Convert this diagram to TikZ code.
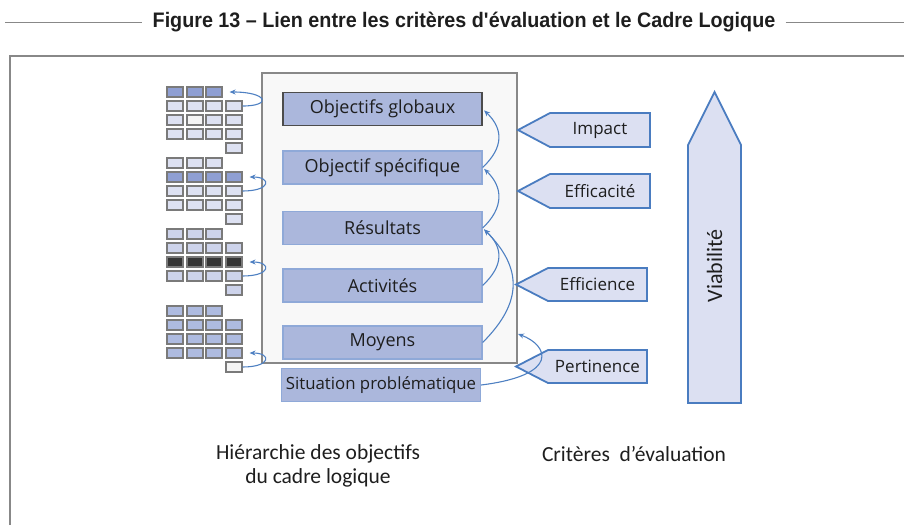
\documentclass[tikz,border=0pt]{standalone}
\usepackage{fontspec}
\setmainfont{Open Sans}
\newfontfamily\carlito{Carlito}
\newfontfamily\titlefont[FakeStretch=0.94]{Liberation Sans}
\usetikzlibrary{arrows.meta}
\definecolor{cellA}{HTML}{8F9FD3}
\definecolor{cellB}{HTML}{DDE1F2}
\definecolor{cellC}{HTML}{CDD3EB}
\definecolor{cellD}{HTML}{363636}
\definecolor{cellE}{HTML}{AEBBE0}
\definecolor{cellW}{HTML}{F4F4F4}
\definecolor{cellline}{HTML}{7A7A7A}
\definecolor{boxfill}{HTML}{ABB7DC}
\definecolor{boxline}{HTML}{8FA9D8}
\definecolor{critfond}{HTML}{DCE0F2}
\definecolor{critbord}{HTML}{4A7CC0}
\definecolor{flechebleu}{HTML}{4E80C2}
\definecolor{gris}{HTML}{888888}
\definecolor{texte}{HTML}{1E1E1E}
\begin{document}
\begin{tikzpicture}[x=1pt, y=-1pt, >={Stealth[length=6pt,width=5pt]},
  cell/.style={draw=cellline, line width=1.1pt, minimum width=16pt, minimum height=10pt, inner sep=0pt},
  boite/.style={draw=boxline, fill=boxfill, line width=1.3pt, minimum width=199pt, minimum height=33pt, inner sep=0pt, text=texte, font=\fontsize{18}{21}\selectfont},
  fleche/.style={->, draw=flechebleu, line width=1.1pt},
  crit/.style={inner sep=0pt, text=texte, font=\fontsize{17}{20}\selectfont},
  critline/.style={draw=critbord, fill=critfond, line width=1.8pt},
  legende/.style={align=center, text=texte, font=\carlito\fontsize{21.5}{24}\selectfont}]
\useasboundingbox (0,0) rectangle (904,525);

% title and page frame
\node[inner xsep=10pt, text=texte, font=\titlefont\bfseries\fontsize{21}{24}\selectfont] (titre) at (464,22) {Figure 13 – Lien entre les critères d\textquotesingle évaluation et le Cadre Logique};
\coordinate (gauche) at (5,22);
\coordinate (droite) at (904,22);
\draw[gris, line width=1pt] (gauche) -- (titre.west);
\draw[gris, line width=1pt] (titre.east) -- (droite);
\draw[gris, line width=2pt] (10,525) |- (904,56);

% logical framework
\node[draw=gris, fill=cellW!60!white, line width=1.2pt, minimum width=255pt, minimum height=290pt] (cadre) at (389.5,218) {};
\node[boite, draw=black!70] (og) at (382.5,109) {Objectifs globaux};
\node[boite] (os) at (382.5,167.5) {Objectif spécifique};
\node[boite] (res) at (382.5,228) {Résultats};
\node[boite] (act) at (382.5,285.5) {Activités};
\node[boite] (moy) at (382.5,342.5) {Moyens};
\node[boite, font=\fontsize{16.8}{20}\selectfont] (sit) at (381,385) {Situation problématique};

\draw[fleche, shorten >=2pt] (os.east) .. controls +(21,-20) and +(21,20) .. (og.east);
\draw[fleche, shorten >=2pt] (res.east) .. controls +(21,-20) and +(21,20) .. (os.east);
\draw[fleche, shorten >=2pt] (act.east) .. controls +(21,-20) and +(21,20) .. (res.east);
\draw[fleche, shorten >=2pt] (moy.east) .. controls +(40,-40) and +(40,40) .. (res.east);

% evaluation criteria
\filldraw[critline] (550,113) -- (650,113) -- (650,147) -- (550,147) -- (518,130) -- cycle;
\node[crit] (impact) at (600,130) {Impact};
\filldraw[critline] (550,174) -- (650,174) -- (650,208) -- (550,208) -- (518,191) -- cycle;
\node[crit] (effic) at (600,191) {Efficacité};
\filldraw[critline] (548,268) -- (647,268) -- (647,301) -- (548,301) -- (516,284.5) -- cycle;
\node[crit] (effi) at (597.5,284.5) {Efficience};
\filldraw[critline] (548,350) -- (647,350) -- (647,383) -- (548,383) -- (516,366.5) -- cycle;
\node[crit] (pert) at (597.5,366.5) {Pertinence};

\coordinate (pertcible) at (518,334);
\draw[fleche] (sit.east) .. controls +(80,-10) and +(30,11) .. (pertcible);

\filldraw[critline] (688,403) -- (688,145) -- (714.5,92) -- (741,145) -- (741,403) -- cycle;
\node[rotate=90, text=texte, font=\carlito\fontsize{22}{24}\selectfont] (viab) at (714.5,266) {Viabilité};

% hierarchy grids
\foreach \c/\x in {1/175,2/195,3/214} \node[cell, fill=cellA] (g1r0c\c) at (\x,92) {};
\foreach \c/\x in {1/175,2/195,3/214,4/234} \node[cell, fill=cellB] (g1r1c\c) at (\x,106) {};
\foreach \c/\x/\f in {1/175/cellB,2/195/cellW,3/214/cellB,4/234/cellB} \node[cell, fill=\f] (g1r2c\c) at (\x,120) {};
\foreach \c/\x in {1/175,2/195,3/214,4/234} \node[cell, fill=cellB] (g1r3c\c) at (\x,134) {};
\node[cell, fill=cellB] (g1r4c4) at (234,148) {};

\foreach \c/\x in {1/175,2/195,3/214} \node[cell, fill=cellB] (g2r0c\c) at (\x,163) {};
\foreach \c/\x in {1/175,2/195,3/214,4/234} \node[cell, fill=cellA] (g2r1c\c) at (\x,177) {};
\foreach \c/\x in {1/175,2/195,3/214,4/234} \node[cell, fill=cellB] (g2r2c\c) at (\x,191) {};
\foreach \c/\x in {1/175,2/195,3/214,4/234} \node[cell, fill=cellB] (g2r3c\c) at (\x,205) {};
\node[cell, fill=cellB] (g2r4c4) at (234,219) {};

\foreach \c/\x in {1/175,2/195,3/214} \node[cell, fill=cellC] (g3r0c\c) at (\x,234) {};
\foreach \c/\x in {1/175,2/195,3/214,4/234} \node[cell, fill=cellC] (g3r1c\c) at (\x,248) {};
\foreach \c/\x in {1/175,2/195,3/214,4/234} \node[cell, fill=cellD] (g3r2c\c) at (\x,262) {};
\foreach \c/\x in {1/175,2/195,3/214,4/234} \node[cell, fill=cellC] (g3r3c\c) at (\x,276) {};
\node[cell, fill=cellC] (g3r4c4) at (234,290) {};

\foreach \c/\x in {1/175,2/195,3/214} \node[cell, fill=cellE] (g4r0c\c) at (\x,311) {};
\foreach \c/\x in {1/175,2/195,3/214,4/234} \node[cell, fill=cellE] (g4r1c\c) at (\x,325) {};
\foreach \c/\x in {1/175,2/195,3/214,4/234} \node[cell, fill=cellE] (g4r2c\c) at (\x,339) {};
\foreach \c/\x in {1/175,2/195,3/214,4/234} \node[cell, fill=cellE] (g4r3c\c) at (\x,353) {};
\node[cell, fill=cellW] (g4r4c4) at (234,367) {};

\draw[fleche, shorten >=7pt] (g1r1c4.east) .. controls +(30,0) and +(45,0) .. (g1r0c3.east);
\draw[fleche, shorten >=7pt] (g2r2c4.east) .. controls +(29,0) and +(29,0) .. (g2r1c4.east);
\draw[fleche, shorten >=7pt] (g3r3c4.east) .. controls +(29,0) and +(29,0) .. (g3r2c4.east);
\draw[fleche, shorten >=7pt] (g4r4c4.east) .. controls +(29,0) and +(29,0) .. (g4r3c4.east);

% captions
\node[legende] (hier) at (318,466) {Hiérarchie des objectifs\\du cadre logique};
\node[legende] (crits) at (634,454) {Critères\ \ d’évaluation};
\end{tikzpicture}
\end{document}
